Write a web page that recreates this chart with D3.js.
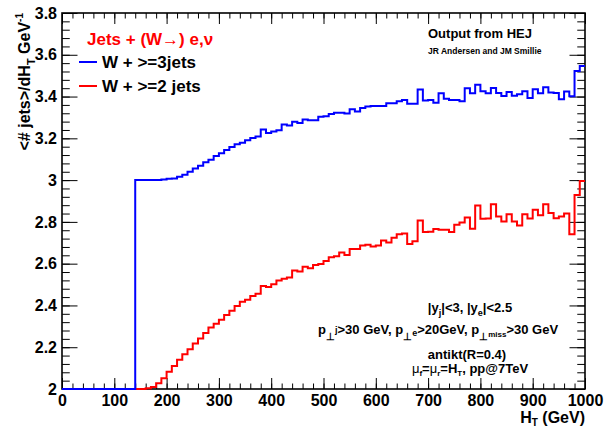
<!DOCTYPE html>
<html>
<head>
<meta charset="utf-8">
<script src="https://cdn.jsdelivr.net/npm/d3@7"></script>
<style>
  body { margin: 0; background: #fff; }
  text { font-family: "Liberation Sans", Arial, sans-serif; font-weight: bold; }
</style>
</head>
<body>
<div id="chart"></div>
<script>
// bin lower edges, 10 GeV wide, 0..990
var binLo = d3.range(0, 1000, 10);

// W + >=3 jets (0 below 140 GeV)
var jets3 = [
  0, 0, 0, 0, 0, 0, 0, 0, 0, 0, 0, 0, 0, 0,
  3.000, 3.000, 3.000, 3.000, 3.000, 3.003, 3.006, 3.008, 3.016, 3.026,
  3.040, 3.056, 3.069, 3.085, 3.097, 3.116, 3.129, 3.144, 3.159, 3.172,
  3.179, 3.191, 3.201, 3.209, 3.242, 3.226, 3.233, 3.239, 3.266, 3.262,
  3.279, 3.274, 3.290, 3.287, 3.287, 3.303, 3.306, 3.316, 3.322, 3.322,
  3.319, 3.339, 3.329, 3.345, 3.352, 3.355, 3.355, 3.355, 3.368, 3.368,
  3.377, 3.384, 3.365, 3.365, 3.434, 3.381, 3.384, 3.370, 3.416, 3.389,
  3.384, 3.384, 3.377, 3.440, 3.416, 3.457, 3.425, 3.416, 3.441, 3.417,
  3.403, 3.422, 3.404, 3.411, 3.425, 3.393, 3.435, 3.416, 3.445, 3.419,
  3.417, 3.387, 3.424, 3.401, 3.522, 3.546
];

// W + >=2 jets (0 below 160 GeV)
var jets2 = [
  0, 0, 0, 0, 0, 0, 0, 0, 0, 0, 0, 0, 0, 0, 0, 0,
  2.003, 2.009, 2.028, 2.052, 2.083, 2.110, 2.140, 2.166, 2.190, 2.218,
  2.242, 2.268, 2.295, 2.312, 2.332, 2.354, 2.375, 2.397, 2.418, 2.427,
  2.445, 2.456, 2.493, 2.488, 2.502, 2.520, 2.528, 2.534, 2.567, 2.562,
  2.585, 2.578, 2.594, 2.599, 2.613, 2.631, 2.636, 2.653, 2.641, 2.670,
  2.670, 2.687, 2.690, 2.682, 2.687, 2.711, 2.701, 2.724, 2.741, 2.745,
  2.694, 2.707, 2.807, 2.751, 2.753, 2.766, 2.762, 2.762, 2.751, 2.786,
  2.797, 2.821, 2.767, 2.879, 2.815, 2.816, 2.885, 2.826, 2.802, 2.837,
  2.802, 2.783, 2.837, 2.816, 2.858, 2.832, 2.885, 2.842, 2.818, 2.826,
  2.840, 2.741, 2.929, 2.996
];

var xTicks = d3.range(0, 1001, 100);
var xMinor = d3.range(0, 1001, 20);
var yTicks = [2, 2.2, 2.4, 2.6, 2.8, 3, 3.2, 3.4, 3.6, 3.8];
var yMinor = d3.range(0, 46).map(function(i) { return 2 + i * 0.04; });

(function() {
  var width = 605;
  var height = 427;
  var m = { left: 62, right: 585, top: 13, bottom: 389 };

  var svg = d3
    .select("#chart")
    .append("svg")
    .attr("width", width)
    .attr("height", height);

  var x = d3.scaleLinear().domain([0, 1000]).range([m.left, m.right]);
  var y = d3.scaleLinear().domain([2, 3.8]).range([m.bottom, m.top]).clamp(true);

  // ticks, ROOT style: inside the frame on all four sides
  var xLen = 11, yLen = 15.5;

  function noText(g) { g.selectAll("text").remove(); g.select(".domain").remove(); }

  svg.append("g")
    .attr("transform", "translate(0," + m.bottom + ")")
    .call(d3.axisBottom(x).tickValues(xMinor).tickSize(-xLen / 2).tickFormat(""))
    .call(noText);
  svg.append("g")
    .attr("transform", "translate(0," + m.top + ")")
    .call(d3.axisTop(x).tickValues(xMinor).tickSize(-xLen / 2).tickFormat(""))
    .call(noText);
  svg.append("g")
    .attr("transform", "translate(0," + m.top + ")")
    .call(d3.axisTop(x).tickValues(xTicks).tickSize(-xLen).tickFormat(""))
    .call(noText);
  svg.append("g")
    .attr("transform", "translate(" + m.left + ",0)")
    .call(d3.axisLeft(y).tickValues(yMinor).tickSize(-yLen / 2).tickFormat(""))
    .call(noText);
  svg.append("g")
    .attr("transform", "translate(" + m.right + ",0)")
    .call(d3.axisRight(y).tickValues(yMinor).tickSize(-yLen / 2).tickFormat(""))
    .call(noText);
  svg.append("g")
    .attr("transform", "translate(" + m.right + ",0)")
    .call(d3.axisRight(y).tickValues(yTicks).tickSize(-yLen).tickFormat(""))
    .call(noText);

  var xAxis = svg.append("g")
    .attr("transform", "translate(0," + m.bottom + ")")
    .call(d3.axisBottom(x).tickValues(xTicks).tickSize(-xLen).tickPadding(6).tickFormat(d3.format("d")));
  xAxis.select(".domain").remove();
  xAxis.selectAll("text")
    .attr("font-size", 16)
    .attr("font-family", "Liberation Sans, Arial, sans-serif")
    .attr("fill", "#000");

  var yAxis = svg.append("g")
    .attr("transform", "translate(" + m.left + ",0)")
    .call(d3.axisLeft(y).tickValues(yTicks).tickSize(-yLen).tickPadding(5).tickFormat(d3.format("~g")));
  yAxis.select(".domain").remove();
  yAxis.selectAll("text")
    .attr("font-size", 16)
    .attr("font-family", "Liberation Sans, Arial, sans-serif")
    .attr("fill", "#000");

  svg.selectAll(".tick line").attr("stroke", "#000");

  // frame
  svg.append("rect")
    .attr("x", m.left)
    .attr("y", m.top)
    .attr("width", m.right - m.left)
    .attr("height", m.bottom - m.top)
    .attr("fill", "none")
    .attr("stroke", "#000")
    .attr("stroke-width", 1.6);

  // step histograms
  var step = d3.line()
    .x(function(d) { return x(d[0]); })
    .y(function(d) { return y(d[1]); })
    .curve(d3.curveStepAfter);

  function steps(vals) {
    var pts = binLo.map(function(lo, i) { return [lo, vals[i]]; });
    pts.push([1000, vals[vals.length - 1]]);
    return pts;
  }

  svg.append("path")
    .attr("d", step(steps(jets2)))
    .attr("fill", "none")
    .attr("stroke", "#ff0000")
    .attr("stroke-width", 2);

  svg.append("path")
    .attr("d", step(steps(jets3)))
    .attr("fill", "none")
    .attr("stroke", "#0000ff")
    .attr("stroke-width", 2);

  // axis titles
  var yTitle = svg.append("text")
    .attr("transform", "translate(30," + m.top + ") rotate(-90)")
    .attr("text-anchor", "end")
    .attr("font-size", 16);
  yTitle.append("tspan").text("<# jets>/dH");
  yTitle.append("tspan").attr("font-size", 11).attr("dy", 5).text("T");
  yTitle.append("tspan").attr("dy", -5).text(" GeV");
  yTitle.append("tspan").attr("font-size", 10).attr("dy", -7).text("-1");

  var xTitle = svg.append("text")
    .attr("x", m.right)
    .attr("y", 423)
    .attr("text-anchor", "end")
    .attr("font-size", 16);
  xTitle.append("tspan").text("H");
  xTitle.append("tspan").attr("font-size", 10).attr("dy", 3).text("T");
  xTitle.append("tspan").attr("dy", -3).text(" (GeV)");

  // legend
  svg.append("text")
    .attr("x", 87)
    .attr("y", 45)
    .attr("font-size", 17)
    .attr("fill", "#ff0000")
    .text("Jets + (W\u2192) e,\u03bd");

  var legend = [
    { label: "W + >=3jets", color: "#0000ff", y: 62 },
    { label: "W + >=2 jets", color: "#ff0000", y: 86 }
  ];
  legend.forEach(function(d) {
    svg.append("line")
      .attr("x1", 79).attr("x2", 97)
      .attr("y1", d.y).attr("y2", d.y)
      .attr("stroke", d.color)
      .attr("stroke-width", 2);
    svg.append("text")
      .attr("x", 102)
      .attr("y", d.y + 6)
      .attr("font-size", 17)
      .attr("fill", "#000")
      .text(d.label);
  });

  svg.append("text")
    .attr("x", 428).attr("y", 38)
    .attr("font-size", 13)
    .text("Output from HEJ");
  svg.append("text")
    .attr("x", 428).attr("y", 54)
    .attr("font-size", 8.5)
    .text("JR Andersen and JM Smillie");

  // cuts
  var t1 = svg.append("text").attr("x", 470).attr("y", 312).attr("text-anchor", "middle").attr("font-size", 13);
  t1.append("tspan").text("|y");
  t1.append("tspan").attr("font-size", 9).attr("dy", 4).text("j");
  t1.append("tspan").attr("dy", -4).text("|<3, |y");
  t1.append("tspan").attr("font-size", 9).attr("dy", 4).text("e");
  t1.append("tspan").attr("dy", -4).text("|<2.5");

  var t2 = svg.append("text").attr("x", 318).attr("y", 334).attr("font-size", 13);
  t2.append("tspan").text("p");
  t2.append("tspan").attr("font-size", 10).attr("dy", 6).text("\u22a5");
  t2.append("tspan").attr("font-size", 9).attr("dy", -7).text("j");
  t2.append("tspan").attr("dy", 1).text(">30 GeV, p");
  t2.append("tspan").attr("font-size", 10).attr("dy", 6).text("\u22a5");
  t2.append("tspan").attr("font-size", 9).attr("dy", -4).text("e");
  t2.append("tspan").attr("dy", -2).text(">20GeV, p");
  t2.append("tspan").attr("font-size", 10).attr("dy", 6).text("\u22a5");
  t2.append("tspan").attr("font-size", 8).attr("dy", -3).text("miss");
  t2.append("tspan").attr("dy", -3).text(">30 GeV");

  svg.append("text").attr("x", 467).attr("y", 359).attr("text-anchor", "middle")
    .attr("font-size", 13).text("antikt(R=0.4)");

  var t4 = svg.append("text").attr("x", 470).attr("y", 373).attr("text-anchor", "middle").attr("font-size", 13);
  t4.append("tspan").attr("font-weight", "normal").text("\u03bc");
  t4.append("tspan").attr("font-size", 8).attr("dy", 3).text("f");
  t4.append("tspan").attr("dy", -3).text("=");
  t4.append("tspan").attr("font-weight", "normal").text("\u03bc");
  t4.append("tspan").attr("font-size", 8).attr("dy", 3).text("r");
  t4.append("tspan").attr("dy", -3).text("=H");
  t4.append("tspan").attr("font-size", 8).attr("dy", 3).text("T");
  t4.append("tspan").attr("dy", -3).text(", pp@7TeV");
})();
</script>
</body>
</html>
